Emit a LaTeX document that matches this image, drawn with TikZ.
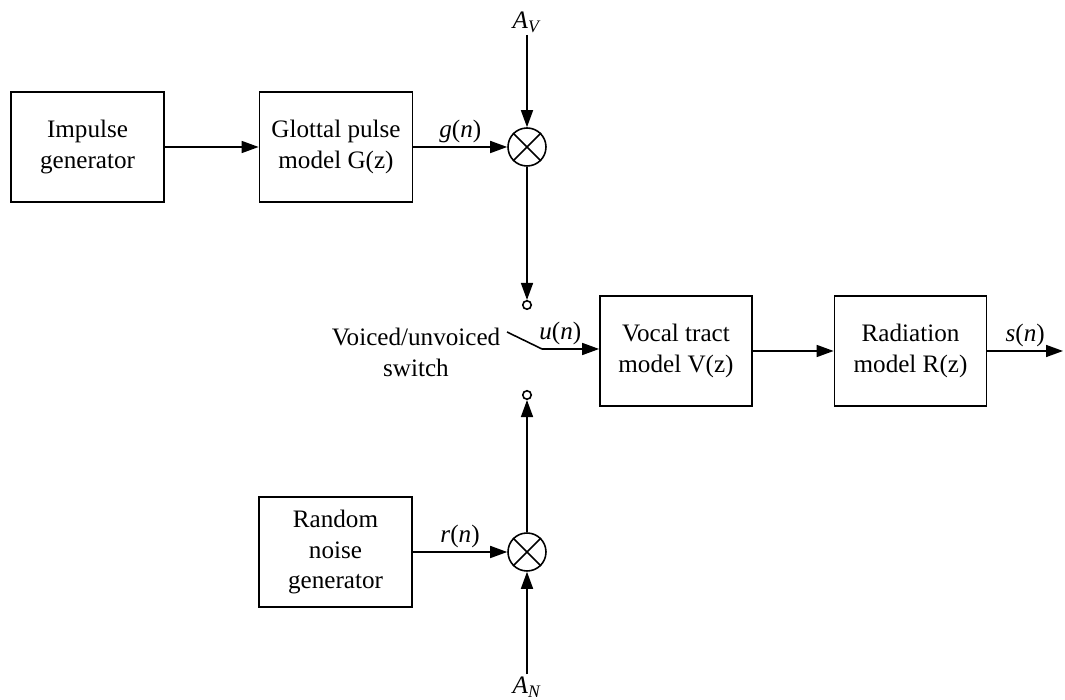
\documentclass[tikz,border=0pt]{standalone}
\usepackage{fontspec}
\setmainfont{Liberation Serif}
\usetikzlibrary{arrows.meta}
\tikzset{
  block/.style={draw, line width=1pt, minimum width=3.06cm, minimum height=2.2cm,
    align=center, font=\fontsize{14.3}{17.6}\selectfont},
  mult/.style={draw, circle, minimum size=0.76cm, inner sep=0pt},
  contact/.style={draw, circle, minimum size=0.17cm, inner sep=0pt},
  sig/.style={font=\fontsize{14.3}{17}\selectfont, inner sep=2pt}
}
\newcommand{\sigof}[1]{\textit{#1}(\textit{n})}
\newcommand{\gain}[1]{\textit{A}\textsubscript{\textit{#1}}}

\begin{document}
\begin{tikzpicture}[>={Triangle[length=3.4mm,width=2.4mm]}, line width=0.9pt]
        \useasboundingbox (0,0) rectangle (21.3,14);
        % blocks
        \node [block] (imp) at (1.75,11.06) {Impulse\\generator};
        \node [block] (glot) at (6.72,11.06) {Glottal pulse\\model G(z)};
        \node [block] (noise) at (6.71,2.96) {Random\\noise\\generator};
        \node [block, minimum width=3.04cm] (vocal) at (13.52,6.98) {Vocal tract\\model V(z)};
        \node [block, minimum width=3.04cm] (rad) at (18.21,6.98) {Radiation\\model R(z)};
        % multipliers
        \node [mult] (multv) at (10.54,11.06) {};
        \node [mult] (multn) at (10.54,2.96) {};
        \draw (multv.north east) -- (multv.south west);
        \draw (multv.north west) -- (multv.south east);
        \draw (multn.north east) -- (multn.south west);
        \draw (multn.north west) -- (multn.south east);
        % gains
        \node [sig, inner sep=1pt] (av) at (10.54,13.56) {\gain{V}};
        \node [sig, inner sep=1pt] (an) at (10.54,0.26) {\gain{N}};
        % switch
        \node [contact] (cv) at (10.54,7.90) {};
        \node [contact] (cn) at (10.54,6.10) {};
        \coordinate (blade) at (10.14,7.36);
        \coordinate (pivot) at (10.84,7.02);
        \coordinate (out) at (21.26,6.98);
        \node [sig, align=center, font=\fontsize{14.3}{17.6}\selectfont] (swlabel) at (8.32,6.96) {Voiced/unvoiced\\switch};
        % connectors
        \draw [->] (imp) -- (glot);
        \draw [->] (glot) -- (multv) node [sig, midway, above] {\sigof{g}};
        \draw [->] (av) -- (multv);
        \draw [->] (multv) -- (cv);
        \draw [->] (noise) -- (multn) node [sig, midway, above] {\sigof{r}};
        \draw [->] (an) -- (multn);
        \draw [->] (multn) -- (cn);
        \draw (blade) -- (pivot);
        \draw [->] (pivot) -- (vocal.west |- pivot) node [sig, pos=0.32, above] {\sigof{u}};
        \draw [->] (vocal) -- (rad);
        \draw [->] (rad) -- (out) node [sig, midway, above] {\sigof{s}};
\end{tikzpicture}
\end{document}
